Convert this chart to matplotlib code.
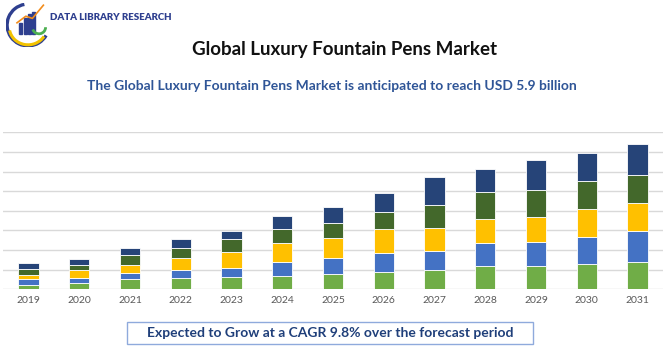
import matplotlib
matplotlib.use("Agg")
import matplotlib.pyplot as plt
import matplotlib.patches as mpatches
import numpy as np

years = ["2019", "2020", "2021", "2022", "2023", "2024", "2025",
         "2026", "2027", "2028", "2029", "2030", "2031"]
seg_green = [0.24, 0.31, 0.51, 0.56, 0.65, 0.68, 0.80, 0.88, 0.98, 1.17, 1.21, 1.29, 1.41]
seg_blue = [0.29, 0.27, 0.34, 0.41, 0.44, 0.70, 0.78, 0.95, 0.99, 1.19, 1.20, 1.39, 1.58]
seg_yellow = [0.22, 0.40, 0.41, 0.61, 0.79, 0.98, 1.02, 1.23, 1.14, 1.22, 1.26, 1.41, 1.42]
seg_dkgreen = [0.30, 0.28, 0.49, 0.54, 0.68, 0.71, 0.80, 0.90, 1.17, 1.38, 1.37, 1.43, 1.40]
seg_navy = [0.29, 0.28, 0.36, 0.44, 0.43, 0.67, 0.78, 0.95, 1.42, 1.19, 1.56, 1.41, 1.58]

title = "Global Luxury Fountain Pens Market"
subtitle = "The Global Luxury Fountain Pens Market is anticipated to reach USD 5.9 billion"
footer = "Expected to Grow at a CAGR 9.8% over the forecast period"

plt.rcParams["font.family"] = ["Lato", "DejaVu Sans"]

fig = plt.figure(figsize=(6.7, 3.5), dpi=100)
ax = fig.add_axes([0.0045, 0.1734, 0.985, 0.4486])

x = np.arange(len(years))
colors = ["#70AD47", "#4472C4", "#FFC000", "#43682B", "#264478"]
bottom = np.zeros(len(years))
for seg, c in zip([seg_green, seg_blue, seg_yellow, seg_dkgreen, seg_navy], colors):
    ax.bar(x, seg, bottom=bottom, width=0.4, color=c, edgecolor="white",
           linewidth=0.6, zorder=3)
    bottom += np.array(seg)

ax.set_xlim(-0.5, 12.5)
ax.set_ylim(0, 8)
ax.set_yticks(np.arange(0, 9, 1))
ax.set_yticklabels([])
ax.grid(axis="y", color="#D9D9D9", linewidth=1, zorder=0)
ax.tick_params(axis="y", length=0)
ax.tick_params(axis="x", length=0, labelsize=7.5, labelcolor="#595959", pad=5)
ax.set_xticks(x)
ax.set_xticklabels(years)
for s in ax.spines.values():
    s.set_visible(False)

# titles
fig.text(345 / 670, 1 - 50 / 350, title, ha="center", va="center",
         fontsize=13.5, fontweight="bold", color="#111111")
fig.text(0.495, 1 - 86 / 350, subtitle, ha="center", va="center",
         fontsize=10, fontweight="bold", color="#2F5597")

# footer box
fig.patches.append(mpatches.Rectangle((127 / 670, 1 - 344 / 350), 406 / 670, 22 / 350,
                                      transform=fig.transFigure, fill=False,
                                      edgecolor="#8FAADC", linewidth=1))
fig.text(330 / 670, 1 - 333 / 350, footer, ha="center", va="center",
         fontsize=10, fontweight="bold", color="#1F3F7A")

# logo
logo = fig.add_axes([6 / 670, 1 - 47 / 350, 44 / 670, 44 / 350])
logo.set_xlim(0, 1)
logo.set_ylim(0, 1)
logo.axis("off")
logo.add_patch(mpatches.Arc((0.5, 0.5), 0.95, 0.95, theta1=100, theta2=330,
                            color="#2E3F8F", linewidth=2.4))
logo.add_patch(mpatches.Arc((0.5, 0.45), 0.85, 0.8, theta1=190, theta2=330,
                            color="#F2C200", linewidth=2.2))
for i, h in enumerate([0.25, 0.35, 0.45, 0.5]):
    logo.add_patch(mpatches.Rectangle((0.3 + i * 0.1, 0.3), 0.07, h, color="#2E3F8F"))
logo.plot([0.25, 0.45, 0.6, 0.85], [0.55, 0.7, 0.65, 0.95], color="#F28C1B", linewidth=1.2)
logo.add_patch(mpatches.Arc((0.75, 0.45), 0.3, 0.3, theta1=200, theta2=360,
                            color="#4CAF50", linewidth=2))
fig.text(50 / 670, 1 - 17 / 350, "DATA LIBRARY RESEARCH", ha="left", va="center",
         fontsize=7, fontweight="heavy", color="#2E3F8F")

fig.savefig("out.png", dpi=100)
